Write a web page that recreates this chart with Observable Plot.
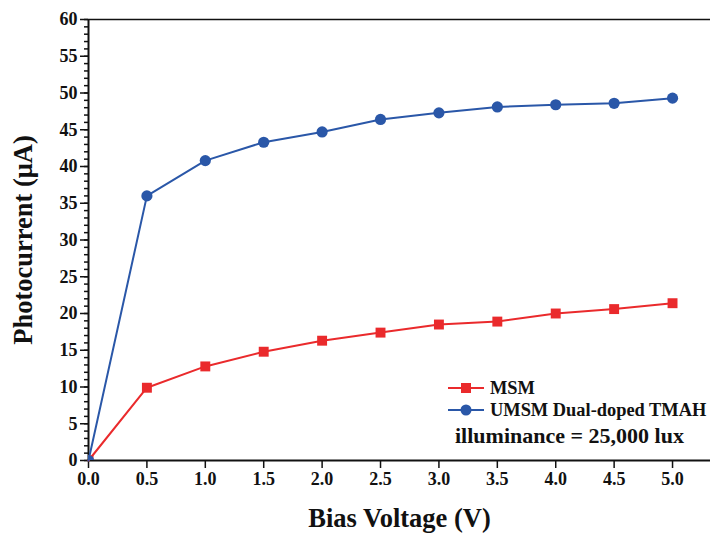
<!DOCTYPE html>
<html>
<head>
<meta charset="utf-8">
<script src="https://cdn.jsdelivr.net/npm/d3@7"></script>
<script src="https://cdn.jsdelivr.net/npm/@observablehq/plot@0.6"></script>
<style>
  html, body { margin: 0; padding: 0; background: #fff; }
  #wrap { position: relative; width: 710px; height: 534px; font-family: "Liberation Serif", "Times New Roman", serif; }
  #legend { position: absolute; left: 448px; top: 377px; font-weight: bold; color: #111; }
  .row { display: flex; align-items: center; height: 22px; font-size: 18.4px; white-space: nowrap; }
  .row svg { margin-right: 4px; }
  .lux { font-size: 22px; margin-top: 2px; margin-left: 7px; white-space: nowrap; }
</style>
</head>
<body>
<div id="wrap"></div>
<script>
const voltage = [0, 0.5, 1.0, 1.5, 2.0, 2.5, 3.0, 3.5, 4.0, 4.5, 5.0];
const msm = [0, 9.9, 12.8, 14.8, 16.3, 17.4, 18.5, 18.9, 20.0, 20.6, 21.4];
const umsm = [0, 36.0, 40.8, 43.3, 44.7, 46.4, 47.3, 48.1, 48.4, 48.6, 49.3];
const seriesNames = ["MSM", "UMSM Dual-doped TMAH"];
const colors = ["#ea2a2c", "#2a57a8"];
const xTicks = [0, 0.5, 1.0, 1.5, 2.0, 2.5, 3.0, 3.5, 4.0, 4.5, 5.0];
const yTicks = [0, 5, 10, 15, 20, 25, 30, 35, 40, 45, 50, 55, 60];
const yMinor = d3.range(0, 61, 1);
const xLabel = "Bias Voltage (V)";
const yLabel = "Photocurrent (\u03bcA)";
const note = "illuminance = 25,000 lux";

const msmData = voltage.map((v, i) => ({v, y: msm[i]}));
const umsmData = voltage.map((v, i) => ({v, y: umsm[i]}));

const chart = Plot.plot({
  width: 710,
  height: 534,
  marginLeft: 88,
  marginRight: 0,
  marginTop: 19,
  marginBottom: 74,
  style: {fontFamily: "'Liberation Serif', 'Times New Roman', serif", fontWeight: "bold", fontSize: "18px", color: "#111", background: "#fff"},
  x: {domain: [0, 5.325]},
  y: {domain: [0, 60]},
  marks: [
    Plot.axisY({ticks: yMinor, tickSize: 4, text: null, label: null, strokeWidth: 1.5}),
    Plot.axisY({ticks: yTicks, tickSize: 8, tickPadding: 3, strokeWidth: 1.5, fontSize: 18, fontWeight: "bold",
      label: yLabel, labelAnchor: "center", labelArrow: "none", labelOffset: 75}),
    Plot.axisX({ticks: xTicks, tickSize: 8, tickPadding: 4, strokeWidth: 1.5, fontSize: 18, fontWeight: "bold",
      tickFormat: d3.format(".1f"),
      label: xLabel, labelAnchor: "center", labelArrow: "none", labelOffset: 66}),
    Plot.ruleY([60], {stroke: "#111", strokeWidth: 1.5}),
    Plot.ruleY([0], {stroke: "#111", strokeWidth: 2}),
    Plot.ruleX([0], {stroke: "#111", strokeWidth: 2}),
    Plot.line(msmData, {x: "v", y: "y", stroke: colors[0], strokeWidth: 2}),
    Plot.line(umsmData, {x: "v", y: "y", stroke: colors[1], strokeWidth: 2}),
    Plot.dot(msmData, {x: "v", y: "y", symbol: "square", r: 5.6, fill: colors[0], stroke: "none", clip: true}),
    Plot.dot(umsmData, {x: "v", y: "y", symbol: "circle", r: 5.6, fill: colors[1], stroke: "none", clip: true})
  ]
});
chart.querySelectorAll("[aria-label='y-axis label'] text, [aria-label='x-axis label'] text").forEach(t => {
  t.setAttribute("font-size", "26.5px");
});
document.getElementById("wrap").appendChild(chart);

const legend = document.createElement("div");
legend.id = "legend";
const symbols = [
  `<rect x="13" y="2" width="10" height="10" fill="${colors[0]}"/>`,
  `<circle cx="18" cy="7" r="5.5" fill="${colors[1]}"/>`
];
seriesNames.forEach((name, i) => {
  const row = document.createElement("div");
  row.className = "row";
  row.innerHTML = `<svg width="38" height="14"><line x1="0" x2="36" y1="7" y2="7" stroke="${colors[i]}" stroke-width="2"/>${symbols[i]}</svg><span>${name}</span>`;
  legend.appendChild(row);
});
const lux = document.createElement("div");
lux.className = "lux";
lux.textContent = note;
legend.appendChild(lux);
document.getElementById("wrap").appendChild(legend);
</script>
</body>
</html>
